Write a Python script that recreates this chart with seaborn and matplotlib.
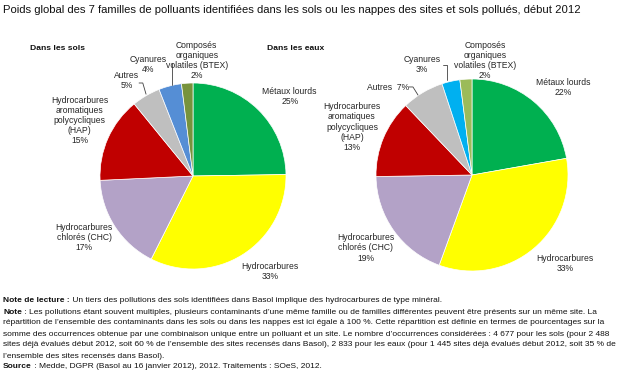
import numpy as np
import matplotlib
matplotlib.use("Agg")
import matplotlib.pyplot as plt
import seaborn as sns

# Data (percent of occurrences), clockwise from 12 o'clock
families = ["Métaux lourds", "Hydrocarbures", "Hydrocarbures chlorés (CHC)",
            "Hydrocarbures aromatiques polycycliques (HAP)", "Autres",
            "Cyanures", "Composés organiques volatiles (BTEX)"]
sols_pct = [25, 33, 17, 15, 5, 4, 2]
eaux_pct = [22, 33, 19, 13, 7, 3, 2]

# label texts (line breaks as in the source figure)
sols_labels = ["Métaux lourds", "Hydrocarbures", "Hydrocarbures\nchlorés (CHC)",
               "Hydrocarbures\naromatiques\npolycycliques\n(HAP)", "Autres",
               "Cyanures", "Composés\norganiques\nvolatiles (BTEX)"]
eaux_labels = ["Métaux lourds", "Hydrocarbures", "Hydrocarbures\nchlorés (CHC)",
               "Hydrocarbures\naromatiques\npolycycliques\n(HAP)", "Autres  ",
               "Cyanures", "Composés\norganiques\nvolatiles (BTEX)"]

sols_colors = ["#00B050", "#FFFF00", "#B3A2C7", "#C00000", "#BFBFBF", "#558ED5", "#77933C"]
eaux_colors = ["#00B050", "#FFFF00", "#B3A2C7", "#C00000", "#BFBFBF", "#00B0F0", "#9BBB59"]

title = ("Poids global des 7 familles de polluants identifiées dans les sols ou les "
         "nappes des sites et sols pollués, début 2012")

notes = [
    ("Note de lecture :", " Un tiers des pollutions des sols identifiées dans Basol implique des hydrocarbures de type minéral."),
    ("Note", " : Les pollutions étant souvent multiples, plusieurs contaminants d’une même famille ou de familles différentes peuvent être présents sur un même site. La"),
    ("", "répartition de l’ensemble des contaminants dans les sols ou dans les nappes est ici égale à 100 %. Cette répartition est définie en termes de pourcentages sur la"),
    ("", "somme des occurrences obtenue par une combinaison unique entre un polluant et un site. Le nombre d’occurrences considérées : 4 677 pour les sols (pour 2 488"),
    ("", "sites déjà évalués début 2012, soit 60 % de l’ensemble des sites recensés dans Basol), 2 833 pour les eaux (pour 1 445 sites déjà évalués début 2012, soit 35 % de"),
    ("", "l’ensemble des sites recensés dans Basol)."),
    ("Source", " : Medde, DGPR (Basol au 16 janvier 2012), 2012. Traitements : SOeS, 2012."),
]

# Layout (pixels of a 620x377 canvas / pie radius units)
W, H = 620, 377
pies = [
    dict(name="Dans les sols", pct=sols_pct, labels=sols_labels, colors=sols_colors,
         cx=193, cy=176, r=93, head_x=30,
         pos=[(1.04, 0.85), (0.83, -1.03), (-1.17, -0.66), (-1.22, 0.60),
              (-0.71, 1.03), (-0.48, 1.20), (0.04, 1.24)],
         leaders=[[(-0.58, 1.0), (-0.54, 1.0), (-0.505, 0.88)],
                  [(-0.226, 1.215), (-0.226, 0.978)]]),
    dict(name="Dans les eaux", pct=eaux_pct, labels=eaux_labels, colors=eaux_colors,
         cx=472, cy=175, r=96, head_x=267,
         pos=[(0.95, 0.91), (0.97, -0.92), (-1.11, -0.76), (-1.25, 0.50),
              (-0.875, 0.91), (-0.52, 1.15), (0.135, 1.19)],
         leaders=[[(-0.656, 0.917), (-0.615, 0.917), (-0.5625, 0.833)],
                  [(-0.302, 1.146), (-0.26, 1.146), (-0.26, 0.99)]]),
]

sns.set_theme(style="white")
plt.rcParams["font.family"] = ["Liberation Sans", "DejaVu Sans"]

fig = plt.figure(figsize=(W / 100, H / 100), dpi=100)
fig.patch.set_facecolor("white")

fig.text(3 / W, 1 - 10 / H, title, fontsize=8.1, va="center", ha="left", color="#111111")

txt_col = "#262626"
for p in pies:
    ax = fig.add_axes([(p["cx"] - p["r"]) / W, (H - p["cy"] - p["r"]) / H,
                       2 * p["r"] / W, 2 * p["r"] / H])
    ax.pie(p["pct"], colors=p["colors"], startangle=90, counterclock=False,
           wedgeprops=dict(edgecolor="white", linewidth=0.5))
    ax.set_xlim(-1, 1)
    ax.set_ylim(-1, 1)
    ax.axis("off")
    for lab, v, (x, y) in zip(p["labels"], p["pct"], p["pos"]):
        if lab.startswith("Autres") and p["name"] == "Dans les eaux":
            s = f"{lab}{v}%"
        else:
            s = f"{lab}\n{v}%"
        ax.text(x, y, s, ha="center", va="center", fontsize=6.2, color=txt_col,
                linespacing=1.15, clip_on=False)
    for seg in p["leaders"]:
        xs, ys = zip(*seg)
        ax.plot(xs, ys, color="#404040", lw=0.6, clip_on=False)
    fig.text(p["head_x"] / W, 1 - 49 / H, p["name"], fontsize=6.1,
             fontweight="bold", ha="left", va="center", color="#111111")

# notes under the chart
y0 = 301
step = 11.0
note_fs = 6.0
for i, (bold, rest) in enumerate(notes):
    y = 1 - (y0 + i * step) / H
    if bold:
        t = fig.text(3 / W, y, bold, fontsize=note_fs, fontweight="bold",
                     ha="left", va="center", color="#111111")
        plt.annotate(rest, xy=(1, 0.5), xycoords=t, ha="left", va="center",
                     fontsize=note_fs, color="#111111", annotation_clip=False)
    else:
        fig.text(3 / W, y, rest, fontsize=note_fs, ha="left", va="center", color="#111111")

fig.savefig("out.png", dpi=100, facecolor="white")
